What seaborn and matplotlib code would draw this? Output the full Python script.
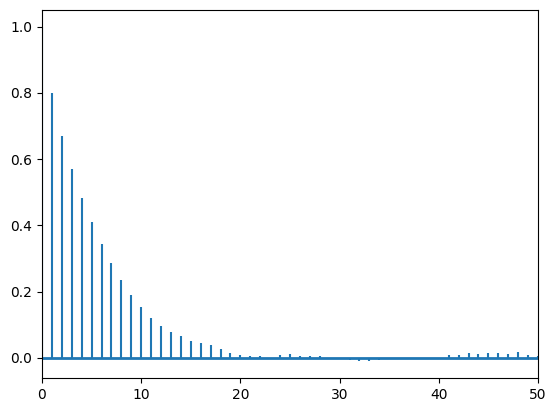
import numpy as np
import seaborn as sns
import matplotlib.pyplot as plt

# autocorrelation values, lags 0..50
lags = list(range(0, 51))
acf = [1.0, 0.799, 0.671, 0.571, 0.482, 0.409, 0.343, 0.286, 0.235, 0.189,
       0.153, 0.120, 0.096, 0.078, 0.066, 0.051, 0.045, 0.039, 0.027, 0.014,
       0.008, 0.005, 0.005, 0.001, 0.008, 0.011, 0.005, 0.005, 0.005, 0.0,
       0.0, -0.007, -0.010, -0.010, -0.007, 0.0, 0.0, 0.0, 0.0, 0.0,
       0.0, 0.008, 0.008, 0.014, 0.011, 0.014, 0.014, 0.011, 0.017, 0.008,
       0.005]

color = sns.color_palette("tab10")[0]

fig = plt.figure(figsize=(5.56, 4.13), dpi=100)
ax = fig.add_axes([42 / 556, 35 / 413, 496 / 556, 368 / 413])

ax.vlines(lags, 0, acf, colors=color, linewidth=1.5)
ax.axhline(0, color=color, linewidth=2)

ax.set_xlim(0, 50)
ax.set_ylim(-0.0605, 1.0505)
ax.set_xticks([0, 10, 20, 30, 40, 50])
ax.set_yticks([0.0, 0.2, 0.4, 0.6, 0.8, 1.0])

fig.savefig("out.png", dpi=100)
